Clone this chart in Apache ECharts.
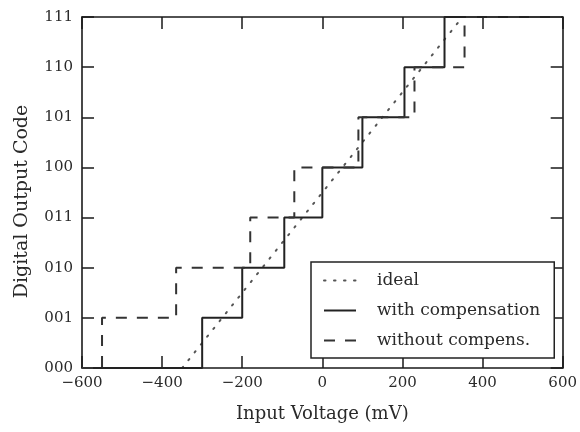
<!DOCTYPE html>
<html><head><meta charset="utf-8">
<script src="https://cdn.jsdelivr.net/npm/echarts@6/dist/echarts.min.js"></script>
<style>html,body{margin:0;padding:0;background:#fff}#c{width:580px;height:432px}</style>
</head><body><div id="c"></div>
<script>
var codeLabels = ['000','001','010','011','100','101','110','111'];
var xTicks = [-600,-400,-200,0,200,400,600];
// ideal transfer line endpoints (mV, code)
var idealX = [-350, 350];
var idealY = [0, 7];
// transition voltages (mV) for codes 001..111
var withComp = [-300, -200, -95, 0, 100, 205, 305];
var withoutComp = [-550, -365, -180, -70, 90, 230, 355];

function stepData(trans){
  var d = [[-600, 0]];
  for (var i = 0; i < trans.length; i++) d.push([trans[i], i + 1]);
  d.push([600, trans.length]);
  return d;
}
var idealData = idealX.map(function(x, i){ return [x, idealY[i]]; });

var font = 'DejaVu Serif, Liberation Serif, serif';
var txt = '#2a2a2a';
function tick(){ return {show: true, inside: true, length: 12, lineStyle: {color: '#1a1a1a', width: 1.5}}; }
function axLine(){ return {show: true, onZero: false, lineStyle: {color: '#1a1a1a', width: 1.6}}; }
var chart = echarts.init(document.getElementById('c'));
chart.setOption({
  animation: false,
  grid: {left: 82, right: 17, top: 17, bottom: 64},
  xAxis: [{
    type: 'value', min: -600, max: 600, interval: 200, position: 'bottom',
    axisLine: axLine(), splitLine: {show: false}, axisTick: tick(),
    axisLabel: {fontFamily: font, fontSize: 15, color: txt, margin: 8,
      formatter: function(v){ return v < 0 ? '\u2212' + (-v) : String(v); }},
    name: 'Input Voltage (mV)', nameLocation: 'middle', nameGap: 37,
    nameTextStyle: {fontFamily: font, fontSize: 18, color: txt}
  }, {
    type: 'value', min: -600, max: 600, interval: 200, position: 'top',
    axisLine: axLine(), splitLine: {show: false}, axisLabel: {show: false}, axisTick: tick()
  }],
  yAxis: [{
    type: 'value', min: 0, max: 7, interval: 1, position: 'left',
    axisLine: axLine(), splitLine: {show: false}, axisTick: tick(),
    axisLabel: {fontFamily: font, fontSize: 15, color: txt, margin: 9,
      formatter: function(v){ return codeLabels[v]; }},
    name: 'Digital Output Code', nameLocation: 'middle', nameGap: 50,
    nameTextStyle: {fontFamily: font, fontSize: 19, color: txt, padding: [0, 18, 0, 0]}
  }, {
    type: 'value', min: 0, max: 7, interval: 1, position: 'right',
    axisLine: axLine(), splitLine: {show: false}, axisLabel: {show: false}, axisTick: tick()
  }],
  legend: {
    orient: 'vertical', left: 311, top: 262,
    backgroundColor: '#fff', borderColor: '#222', borderWidth: 1.5,
    padding: [10, 14, 9, 12], itemWidth: 32, itemHeight: 14, itemGap: 13,
    itemStyle: {opacity: 0},
    textStyle: {fontFamily: font, fontSize: 17, lineHeight: 14, color: txt, padding: [0, 0, 0, 16]},
    data: ['ideal', 'with compensation', 'without compens.']
  },
  series: [{
    name: 'ideal', type: 'line', data: idealData, symbol: 'none', clip: false,
    lineStyle: {color: '#555', width: 2, type: [1.5, 8.5], cap: 'round'}, itemStyle: {color: '#555'}
  }, {
    name: 'with compensation', type: 'line', step: 'end', data: stepData(withComp), symbol: 'none', clip: false,
    lineStyle: {color: '#222', width: 2}, itemStyle: {color: '#222'}
  }, {
    name: 'without compens.', type: 'line', step: 'end', data: stepData(withoutComp), symbol: 'none', clip: false,
    lineStyle: {color: '#333', width: 2, type: [11, 10]}, itemStyle: {color: '#333'}
  }]
});
</script></body></html>
